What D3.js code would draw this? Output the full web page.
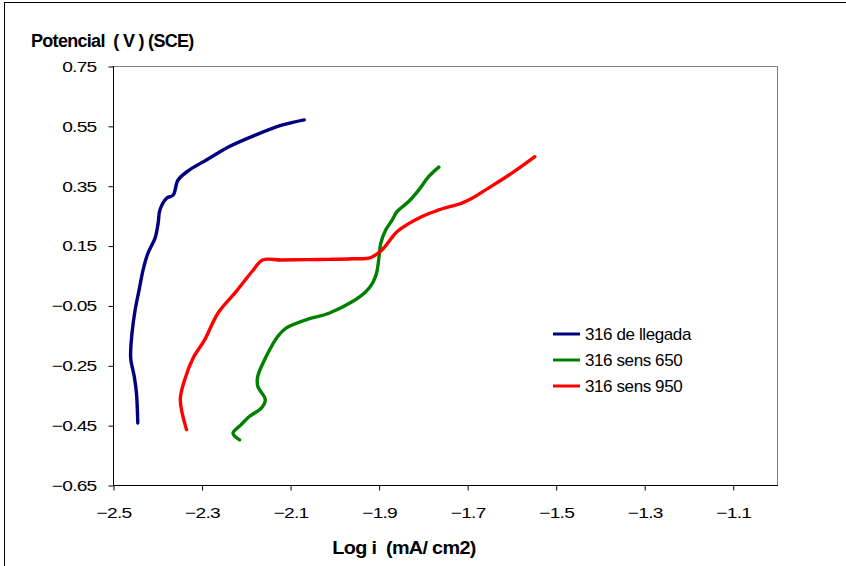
<!DOCTYPE html>
<html>
<head>
<meta charset="utf-8">
<script src="https://cdn.jsdelivr.net/npm/d3@7"></script>
<style>
  body { margin: 0; background: #fff; }
  svg { display: block; font-family: "Liberation Sans", Arial, sans-serif; }
  text { white-space: pre; }
</style>
</head>
<body>
<script>
// [log i, potential]
const llegada = [
  [-2.444, -0.443], [-2.447, -0.343], [-2.452, -0.287], [-2.460, -0.226],
  [-2.457, -0.142], [-2.450, -0.065], [-2.441, 0.002], [-2.432, 0.069],
  [-2.421, 0.125], [-2.405, 0.175], [-2.398, 0.225], [-2.394, 0.269],
  [-2.379, 0.308], [-2.364, 0.319], [-2.353, 0.369], [-2.327, 0.403],
  [-2.289, 0.436], [-2.237, 0.481], [-2.177, 0.520], [-2.117, 0.553],
  [-2.068, 0.570]
];
const sens650 = [
  [-2.214, -0.499], [-2.229, -0.477], [-2.211, -0.449], [-2.192, -0.421],
  [-2.165, -0.393], [-2.156, -0.365], [-2.173, -0.320], [-2.173, -0.287],
  [-2.154, -0.221], [-2.128, -0.154], [-2.109, -0.126], [-2.064, -0.098],
  [-2.012, -0.076], [-1.959, -0.037], [-1.929, -0.004], [-1.914, 0.024],
  [-1.907, 0.047], [-1.903, 0.069], [-1.899, 0.113], [-1.895, 0.158],
  [-1.884, 0.202], [-1.869, 0.236], [-1.858, 0.264], [-1.832, 0.297],
  [-1.809, 0.336], [-1.787, 0.380], [-1.764, 0.412]
];
const sens950 = [
  [-2.334, -0.465], [-2.348, -0.365], [-2.338, -0.298], [-2.319, -0.226],
  [-2.293, -0.165], [-2.263, -0.076], [-2.222, -0.004], [-2.185, 0.065],
  [-2.162, 0.102], [-2.120, 0.102], [-2.060, 0.103], [-2.012, 0.104],
  [-1.960, 0.106], [-1.918, 0.110], [-1.892, 0.136], [-1.865, 0.186],
  [-1.858, 0.197], [-1.802, 0.247], [-1.764, 0.269], [-1.712, 0.292],
  [-1.689, 0.308], [-1.652, 0.342], [-1.599, 0.392], [-1.547, 0.447]
];

const seriesNames = ['316 de llegada', '316 sens 650', '316 sens 950'];
const seriesColors = ['#000080', '#008000', '#ff0000'];
const seriesData = [llegada, sens650, sens950];

const xTicks = [-2.5, -2.3, -2.1, -1.9, -1.7, -1.5, -1.3, -1.1];
const yTicks = [0.75, 0.55, 0.35, 0.15, -0.05, -0.25, -0.45, -0.65];

const W = 846, H = 566;
const plot = { left: 113, top: 66, right: 777, bottom: 485 };

const svg = d3.select('body').append('svg')
  .attr('width', W)
  .attr('height', H);

// chart frame
svg.append('rect')
  .attr('x', 4.5).attr('y', 2.5)
  .attr('width', W + 10).attr('height', H + 10)
  .attr('fill', '#fff')
  .attr('stroke', '#000')
  .attr('stroke-width', 1);

const x = d3.scaleLinear().domain([-2.5, -1.0]).range([plot.left, plot.right]);
const y = d3.scaleLinear().domain([-0.65, 0.75]).range([plot.bottom, plot.top]);

// plot area border
svg.append('rect')
  .attr('x', plot.left + 0.5).attr('y', plot.top + 0.5)
  .attr('width', plot.right - plot.left).attr('height', plot.bottom - plot.top)
  .attr('fill', 'none')
  .attr('stroke', '#808080');

// text in the original is drawn horizontally stretched
function stretch(sel, sx) {
  sel.each(function () {
    const t = d3.select(this);
    const tx = +t.attr('x') || 0;
    t.attr('x', tx / sx).attr('transform', `scale(${sx},1)`);
  });
}

const xAxis = svg.append('g')
  .attr('transform', `translate(0.5,${plot.bottom + 0.5})`)
  .call(d3.axisBottom(x).tickValues(xTicks).tickSize(5).tickPadding(17)
    .tickFormat(d => d3.format('.1f')(d)));

const yAxis = svg.append('g')
  .attr('transform', `translate(${plot.left + 0.5},0.5)`)
  .call(d3.axisLeft(y).tickValues(yTicks).tickSize(5).tickPadding(12)
    .tickFormat(d => d3.format('.2f')(d)));

[xAxis, yAxis].forEach(a => {
  a.select('.domain').remove();
  a.selectAll('.tick line').attr('stroke', '#000');
  a.selectAll('.tick text')
    .attr('fill', '#000')
    .attr('font-size', 15)
    .attr('letter-spacing', '-0.6')
    .attr('font-family', '"Liberation Sans", Arial, sans-serif')
    .call(stretch, 1.28);
});
// axis lines
svg.append('line')
  .attr('x1', plot.left + 0.5).attr('x2', plot.left + 0.5)
  .attr('y1', plot.top).attr('y2', plot.bottom + 1)
  .attr('stroke', '#000');
svg.append('line')
  .attr('x1', plot.left).attr('x2', plot.right + 1)
  .attr('y1', plot.bottom + 0.5).attr('y2', plot.bottom + 0.5)
  .attr('stroke', '#000');

const line = d3.line()
  .x(d => x(d[0]))
  .y(d => y(d[1]))
  .curve(d3.curveCatmullRom.alpha(0.5));

svg.append('g')
  .selectAll('path')
  .data(seriesData)
  .enter().append('path')
  .attr('d', line)
  .attr('fill', 'none')
  .attr('stroke', (d, i) => seriesColors[i])
  .attr('stroke-width', 3.4)
  .attr('stroke-linejoin', 'round')
  .attr('stroke-linecap', 'round');

// titles
svg.append('text')
  .attr('x', 31).attr('y', 47)
  .attr('font-size', 18)
  .attr('font-weight', 'bold')
  .attr('letter-spacing', '-0.7')
  .text('Potencial  ( V ) (SCE)');

svg.append('g')
  .attr('transform', 'translate(404,554)')
  .append('text')
  .attr('text-anchor', 'middle')
  .attr('font-size', 18)
  .attr('font-weight', 'bold')
  .attr('letter-spacing', '-0.6')
  .text('Log i  (mA/ cm2)')
  .call(stretch, 1.1);

// legend
const legend = svg.append('g')
  .selectAll('g')
  .data(seriesNames)
  .enter().append('g')
  .attr('transform', (d, i) => `translate(553,${334 + i * 26})`);

legend.append('line')
  .attr('x1', 0).attr('x2', 27)
  .attr('stroke', (d, i) => seriesColors[i])
  .attr('stroke-width', 3);

legend.append('text')
  .attr('x', 32).attr('y', 6)
  .attr('font-size', 17)
  .attr('letter-spacing', '-0.4')
  .text(d => d);
</script>
</body>
</html>
